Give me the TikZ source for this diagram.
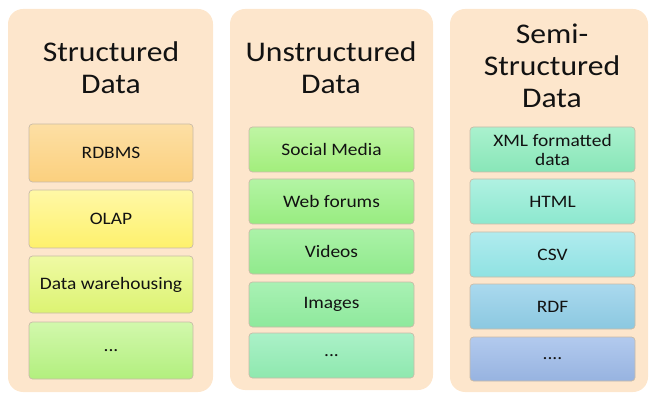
\documentclass[tikz,border=0pt]{standalone}
\usepackage{fontspec}
\setmainfont{Carlito}
\usepackage{graphicx}
\newcommand{\sx}[1]{\scalebox{1.11}[1]{#1}}

\definecolor{panelfill}{HTML}{FDE6CC}
\definecolor{boxline}{HTML}{C9BBA8}
\definecolor{txt}{HTML}{121212}

\tikzset{
  panel/.style={fill=panelfill, draw=none, rounded corners=15pt, inner sep=0pt},
  title/.style={text=txt, align=center, inner sep=0pt,
    font=\fontsize{28.5}{32}\selectfont},
  item/.style 2 args={/utils/exec={\definecolor{itop}{HTML}{#1}\definecolor{ibot}{HTML}{#2}},
    draw=boxline, line width=0.7pt, rounded corners=3.5pt,
    top color=itop, bottom color=ibot, inner sep=0pt, text=txt, align=center,
    font=\fontsize{17.5}{19}\selectfont},
}

\begin{document}
\begin{tikzpicture}[x=1pt, y=-1pt]
\useasboundingbox (0,0) rectangle (650,395);

% three category panels
\node[panel, minimum width=205pt, minimum height=383pt] (pS) at (110.5,200.5) {};
\node[panel, minimum width=203pt, minimum height=381pt] (pU) at (331.5,199.5) {};
\node[panel, minimum width=198pt, minimum height=383pt] (pM) at (549,200.5) {};

% panel headings
\node[title] (tS) at (111,67.5) {\sx{Structured}\\\sx{Data}};
\node[title] (tU) at (331,67.5) {\sx{Unstructured}\\\sx{Data}};
\node[title] (tM) at (552,66) {\sx{Semi-}\\\sx{Structured}\\\sx{Data}};

% structured data items
\node[item={FDDFA4}{FBD07E}, minimum width=164pt, minimum height=58pt] (s1) at (111,153) {\sx{RDBMS}};
\node[item={FFF8A6}{FEF16C}, minimum width=164pt, minimum height=58pt] (s2) at (111,219) {\sx{OLAP}};
\node[item={EFFAA4}{DCF372}, minimum width=164pt, minimum height=57pt] (s3) at (111,284.5) {\sx{Data warehousing}};
\node[item={D2F8AC}{B2EF7E}, minimum width=164pt, minimum height=57pt] (s4) at (111,350.5) {\sx{...}};

% unstructured data items
\node[item={BFF5A4}{A2EE7C}, minimum width=165pt, minimum height=45pt] (u1) at (331.5,149.5) {\sx{Social Media}};
\node[item={B3F4A4}{98EC80}, minimum width=165pt, minimum height=45pt] (u2) at (331.5,201.5) {\sx{Web forums}};
\node[item={ABF2A8}{90EA8C}, minimum width=165pt, minimum height=45pt] (u3) at (331.5,251.5) {\sx{Videos}};
\node[item={A9F1B4}{8EE99C}, minimum width=165pt, minimum height=45pt] (u4) at (331.5,304.5) {\sx{Images}};
\node[item={ABF1C8}{8EE8AE}, minimum width=165pt, minimum height=45pt] (u5) at (331.5,355.5) {\sx{...}};

% semi-structured data items
\node[item={AAF1CE}{88E6B8}, minimum width=165pt, minimum height=45pt] (m1) at (552.5,149.5) {\sx{XML formatted}\\\sx{data}};
\node[item={B0F1E2}{8CE8CE}, minimum width=165pt, minimum height=45pt] (m2) at (552.5,201.5) {\sx{HTML}};
\node[item={B0EBEE}{8FE2E2}, minimum width=165pt, minimum height=45pt] (m3) at (552.5,254.5) {\sx{CSV}};
\node[item={AAD9EE}{8BC8E0}, minimum width=165pt, minimum height=45pt] (m4) at (552.5,306.5) {\sx{RDF}};
\node[item={B2CAEE}{97B3E0}, minimum width=165pt, minimum height=44pt] (m5) at (552.5,359) {\sx{....}};
\end{tikzpicture}
\end{document}
